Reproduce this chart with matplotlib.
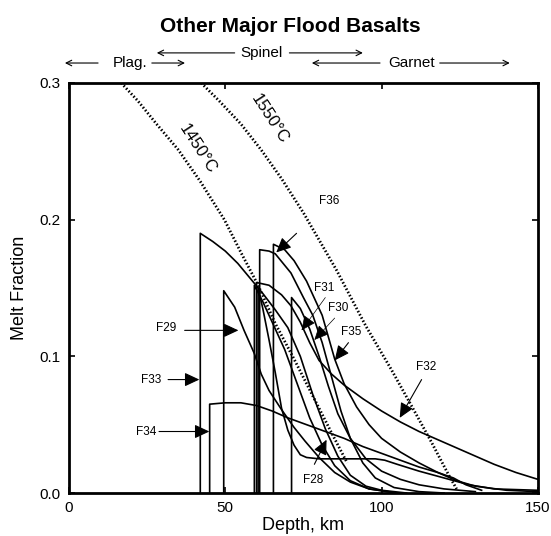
import numpy as np
import matplotlib
matplotlib.use("Agg")
import matplotlib.pyplot as plt

plt.rcParams['font.family'] = ['Liberation Sans', 'DejaVu Sans']

# Melt fraction vs depth curves (depth km, melt fraction)
f28_depth = [60.5, 60.5, 62, 64, 66, 68, 70, 72, 74, 76, 80, 90, 98, 101, 105, 112, 120, 128, 136, 150]
f28_melt = [0, 0.15, 0.135, 0.112, 0.088, 0.062, 0.046, 0.035, 0.028, 0.026, 0.025, 0.025, 0.025, 0.024, 0.021, 0.016, 0.011, 0.006, 0.003, 0.002]

f29_depth = [49.5, 49.5, 53, 56, 59.3, 61.5, 64, 68, 72, 75.5, 80, 85, 90, 96, 105]
f29_melt = [0, 0.148, 0.136, 0.119, 0.102, 0.087, 0.075, 0.061, 0.048, 0.038, 0.026, 0.015, 0.008, 0.003, 0.0]

f30_depth = [61, 61, 64, 66, 71, 75, 78, 81, 84, 87, 90, 94, 98, 104, 112, 120]
f30_melt = [0, 0.178, 0.177, 0.175, 0.161, 0.143, 0.13, 0.11, 0.085, 0.06, 0.04, 0.022, 0.011, 0.004, 0.001, 0.0]

f31_depth = [59.3, 59.3, 62, 65, 69, 73, 77, 81, 85, 90, 96, 105]
f31_melt = [0, 0.152, 0.14, 0.125, 0.105, 0.08, 0.055, 0.035, 0.02, 0.009, 0.003, 0.0]

f32_depth = [60, 60, 64, 68, 71, 74, 77, 80, 84, 88, 94, 100, 106, 112, 120, 128, 136, 143, 150]
f32_melt = [0, 0.154, 0.152, 0.145, 0.137, 0.125, 0.11, 0.097, 0.087, 0.079, 0.069, 0.06, 0.052, 0.045, 0.037, 0.029, 0.021, 0.015, 0.01]

f33_depth = [42, 42, 46, 50, 54, 58, 62, 66, 70, 74, 78, 82, 86, 90, 95, 100, 108]
f33_melt = [0, 0.19, 0.184, 0.177, 0.168, 0.157, 0.146, 0.134, 0.121, 0.1, 0.072, 0.047, 0.027, 0.013, 0.005, 0.002, 0.0]

f34_depth = [45, 45, 50, 55, 60, 65, 70, 76, 82, 88, 94, 100, 106, 112, 118, 123, 127, 132]
f34_melt = [0, 0.065, 0.066, 0.066, 0.064, 0.06, 0.055, 0.05, 0.045, 0.04, 0.034, 0.029, 0.024, 0.019, 0.015, 0.011, 0.006, 0.002]

f35_depth = [65.4, 65.4, 69, 72, 76, 81, 85, 88, 92, 96, 100, 106, 112, 118, 124, 130, 140, 150]
f35_melt = [0, 0.182, 0.178, 0.17, 0.155, 0.13, 0.098, 0.08, 0.063, 0.05, 0.04, 0.03, 0.022, 0.015, 0.009, 0.005, 0.002, 0.001]

f36_depth = [71.2, 71.2, 74, 77, 80, 83, 86, 90, 95, 100, 106, 112, 120, 130]
f36_melt = [0, 0.143, 0.135, 0.12, 0.1, 0.078, 0.058, 0.04, 0.025, 0.016, 0.01, 0.006, 0.003, 0.001]

curves = [(f28_depth, f28_melt), (f29_depth, f29_melt), (f30_depth, f30_melt),
          (f31_depth, f31_melt), (f32_depth, f32_melt), (f33_depth, f33_melt),
          (f34_depth, f34_melt), (f35_depth, f35_melt), (f36_depth, f36_melt)]

# Potential temperature melting paths (dotted)
t1450_depth = [16.7, 22, 28, 35, 42, 49.7, 55, 60.5, 66, 72, 78, 84, 89]
t1450_melt = [0.3, 0.287, 0.27, 0.251, 0.228, 0.2, 0.176, 0.152, 0.124, 0.098, 0.071, 0.044, 0.022]
t1550_depth = [42.3, 48, 55, 61.5, 68, 75, 85.6, 95, 103.2, 110, 116, 121.5, 124]
t1550_melt = [0.3, 0.287, 0.27, 0.251, 0.23, 0.205, 0.163, 0.122, 0.09, 0.062, 0.037, 0.013, 0.003]

# Curve labels: (text, label position, arrow tail, arrow tip)
labels = [
    ('F29', (31.1, 0.121), (37.0, 0.119), (54.2, 0.119)),
    ('F33', (26.3, 0.083), (31.7, 0.083), (41.7, 0.083)),
    ('F34', (24.7, 0.045), (28.8, 0.045), (44.9, 0.045)),
    ('F28', (78.2, 0.0095), (78.5, 0.021), (82.4, 0.039)),
    ('F32', (114.4, 0.092), (112.8, 0.083), (105.8, 0.055)),
    ('F35', (90.4, 0.118), (89.4, 0.110), (85.0, 0.097)),
    ('F31', (81.7, 0.150), (82.0, 0.143), (74.4, 0.119)),
    ('F30', (86.2, 0.135), (85.0, 0.128), (78.5, 0.112)),
    ('F36', (83.3, 0.214), (72.8, 0.190), (66.3, 0.176)),
]

fig = plt.figure(figsize=(5.51, 5.36), dpi=100)
ax = fig.add_axes([0.1252, 0.0802, 0.851, 0.765])

for d, m in curves:
    ax.plot(d, m, color='black', lw=1.2, solid_joinstyle='round')

ax.plot(t1450_depth, t1450_melt, color='black', lw=2.0, linestyle=(0, (0.55, 0.75)))
ax.plot(t1550_depth, t1550_melt, color='black', lw=2.0, linestyle=(0, (0.55, 0.75)))
ax.text(41.3, 0.252, '1450°C', rotation=-57, fontsize=12, ha='center', va='center')
ax.text(64.1, 0.274, '1550°C', rotation=-57, fontsize=12, ha='center', va='center')

for name, pos, tail, tip in labels:
    ax.text(pos[0], pos[1], name, fontsize=8.5, ha='center', va='center')
    lw = 0.5 if name in ('F31', 'F30') else 0.8
    ax.annotate('', xy=tip, xytext=tail,
                arrowprops=dict(arrowstyle='-|>,head_length=0.9,head_width=0.42',
                                color='black', lw=lw, shrinkA=0, shrinkB=0))

ax.set_xlim(0, 150)
ax.set_ylim(0, 0.3)
ax.set_xticks([0, 50, 100, 150])
ax.set_xticklabels(['0', '50', '100', '150'])
ax.set_yticks([0.0, 0.1, 0.2, 0.3])
ax.set_yticklabels(['0.0', '0.1', '0.2', '0.3'])
ax.tick_params(direction='in', top=True, right=True, length=4, width=1.2, labelsize=11, pad=6)
for s in ax.spines.values():
    s.set_linewidth(2)
ax.set_xlabel('Depth, km', fontsize=13, labelpad=1)
ax.set_ylabel('Melt Fraction', fontsize=13, labelpad=8)

# Mineral stability fields above the plot
arr = dict(arrowstyle='->', lw=0.8, color='black', shrinkA=0, shrinkB=0)
y_top, y_low = 0.322, 0.3146
ax.text(61.7, y_top, 'Spinel', fontsize=11, ha='center', va='center', clip_on=False)
ax.annotate('', xy=(28.1, y_top), xytext=(53.0, y_top), arrowprops=arr, annotation_clip=False)
ax.annotate('', xy=(94.0, y_top), xytext=(70.5, y_top), arrowprops=arr, annotation_clip=False)
ax.text(19.5, y_low, 'Plag.', fontsize=11, ha='center', va='center', clip_on=False)
ax.annotate('', xy=(-1.3, y_low), xytext=(9.3, y_low), arrowprops=arr, annotation_clip=False)
ax.annotate('', xy=(37.1, y_low), xytext=(26.5, y_low), arrowprops=arr, annotation_clip=False)
ax.text(109.7, y_low, 'Garnet', fontsize=11, ha='center', va='center', clip_on=False)
ax.annotate('', xy=(77.7, y_low), xytext=(99.5, y_low), arrowprops=arr, annotation_clip=False)
ax.annotate('', xy=(141.0, y_low), xytext=(118.6, y_low), arrowprops=arr, annotation_clip=False)

fig.text(290 / 551, 1 - 27 / 536, 'Other Major Flood Basalts', fontsize=15,
         fontweight='bold', ha='center', va='center')

fig.savefig('out.png', dpi=100)
